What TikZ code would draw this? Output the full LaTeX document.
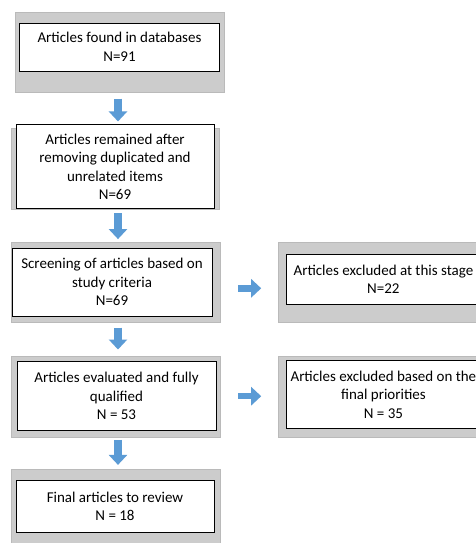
\documentclass[tikz,border=0pt]{standalone}
\usepackage{fontspec}
\setmainfont{Carlito}
\usetikzlibrary{positioning,arrows.meta,calc}
\definecolor{flowblue}{HTML}{5B9BD5}
\tikzset{panel/.style={draw=black!27, fill=black!20, inner sep=0pt, minimum width=209pt, minimum height=80pt}}
\tikzset{box/.style={draw, line width=0.9pt, fill=white, align=center, inner sep=1pt, font=\fontsize{15}{18.5}\selectfont}}
\tikzset{flow/.style={flowblue, line width=7.5pt, -{Triangle[width=18pt,length=10pt]}}}

\begin{document}
\begin{tikzpicture}[x=1pt, y=1pt]
\useasboundingbox[fill=white] (0,0) rectangle (475,-543);
\node[panel] (p1) at (119.5,-52.5){};
\node[box, minimum width=200pt, minimum height=48pt, yshift=5.5pt] (w1) at (p1){Articles found in databases\\N=91};
\node[panel, minimum width=208pt, minimum height=81pt][below=35pt of p1, xshift=-4.5pt] (p2){};
\node[box, minimum width=198pt, minimum height=84pt, yshift=1.5pt] (w2) at (p2){Articles remained after\\removing duplicated and\\unrelated items\\N=69};
\node[panel][below=33pt of p2, xshift=0.5pt] (p3){};
\node[box, minimum width=200pt, minimum height=68pt, xshift=-3.5pt] (w3) at (p3){Screening of articles based on\\study criteria\\N=69};
\node[panel, minimum width=210pt][right=58pt of p3] (r1){};
\node[box, minimum width=194pt, minimum height=50pt, yshift=3pt] (wr1) at (r1){Articles excluded at this stage\\N=22};
\node[panel, minimum height=81pt][below=33pt of p3] (p4){};
\node[box, minimum width=199pt, minimum height=69pt, xshift=1pt] (w4) at (p4){Articles evaluated and fully\\qualified\\N = 53};
\node[panel, minimum width=210pt, minimum height=81pt][below=33pt of r1] (r2){};
\node[box, minimum width=194pt, minimum height=68pt, yshift=1.5pt] (wr2) at (r2){Articles excluded based on the\\final priorities\\N = 35};
\node[panel][below=32pt of p4] (p5){};
\node[box, minimum width=198pt, minimum height=52pt, yshift=3pt, xshift=-0.5pt] (w5) at (p5){Final articles to review\\N = 18};
\coordinate (ax) at (118,0);
\draw[flow, shorten <=6pt, shorten >=3pt] (p1.south -| ax) -- (w2.north -| ax);
\draw[flow, shorten <=4pt, shorten >=3pt] (w2.south -| ax) -- (p3.north -| ax);
\draw[flow, shorten <=5pt, shorten >=6pt] (p3.south -| ax) -- (p4.north -| ax);
\draw[flow, shorten <=3pt, shorten >=4pt] (p4.south -| ax) -- (p5.north -| ax);
\draw[flow, line width=6.5pt, shorten <=18pt, shorten >=17pt] ([yshift=-6pt]p3.east) -- ([yshift=-6pt]r1.west);
\draw[flow, line width=6.5pt, shorten <=18pt, shorten >=17pt] (p4.east) -- (r2.west);
\end{tikzpicture}
\end{document}
